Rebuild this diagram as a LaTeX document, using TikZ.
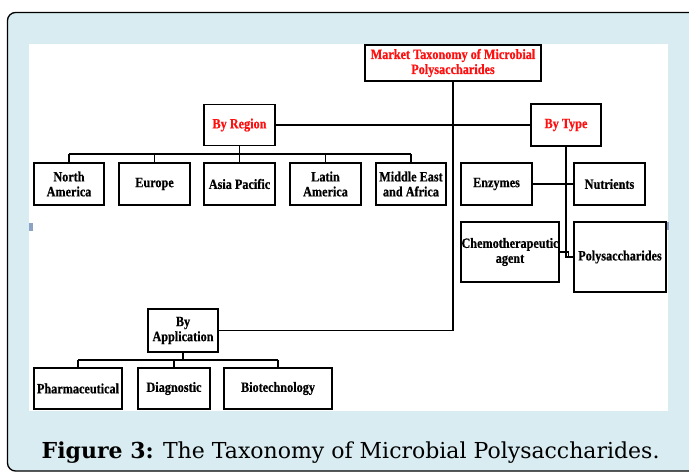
\documentclass[tikz,border=0pt]{standalone}
\usepackage{fontspec}
\newfontfamily\boxfont[FakeStretch=0.86,FakeBold=0.6]{Liberation Serif}
\newfontfamily\capfont{DejaVu Serif}
\definecolor{framebg}{HTML}{D8ECF1}
\definecolor{tickblue}{HTML}{8DA3C6}
\definecolor{ttred}{HTML}{FF1010}
\begin{document}
\begin{tikzpicture}[x=1pt,y=-1pt,
  bx/.style={draw=black,line width=1.6pt,fill=white,inner sep=0pt,align=center,
    font=\boxfont\bfseries\fontsize{14.2}{15}\selectfont},
  redtxt/.style={text=ttred},
  conn/.style={draw=black,line width=1.6pt}]
\useasboundingbox (0,0) rectangle (689,472);
\begin{scope}
\clip (0,0) rectangle (689,472);
\draw[fill=framebg,line width=1.3pt,rounded corners=8pt] (7.5,12.5) rectangle (700,471);
\end{scope}
\fill[white] (29,44) rectangle (668,411);
\fill[tickblue] (29,223) rectangle (33,231);
\fill[tickblue] (666,222) rectangle (669,230);
% boxes: centre, width, height
\node[bx,redtxt,minimum width=176pt,minimum height=36pt] (market) at (453,63) {Market Taxonomy of Microbial\\Polysaccharides};
\node[bx,redtxt,minimum width=71pt,minimum height=41pt] (byregion) at (239.5,125) {By Region};
\node[bx,redtxt,minimum width=70pt,minimum height=42pt] (bytype) at (566,125) {By Type};
\node[bx,minimum width=70pt,minimum height=42pt] (na) at (69,184) {North\\America};
\node[bx,minimum width=71pt,minimum height=42pt] (eu) at (154.5,184) {Europe};
\node[bx,minimum width=71pt,minimum height=42pt] (ap) at (239.5,184) {Asia Pacific};
\node[bx,minimum width=71pt,minimum height=42pt] (la) at (325.5,184) {Latin\\America};
\node[bx,minimum width=70pt,minimum height=42pt] (mea) at (411,184) {Middle East\\and Africa};
\node[bx,minimum width=71pt,minimum height=42pt] (enz) at (496.5,184) {Enzymes};
\node[bx,minimum width=71pt,minimum height=42pt] (nut) at (609.5,184) {Nutrients};
\node[bx,minimum width=98pt,minimum height=60pt] (chemo) at (510,252) {Chemotherapeutic\\agent};
\node[bx,minimum width=92pt,minimum height=70pt] (poly) at (620,257) {Polysaccharides};
\node[bx,minimum width=70pt,minimum height=43pt] (byapp) at (183,330.5) {By\\Application};
\node[bx,minimum width=88pt,minimum height=41pt] (pharma) at (78,388.5) {Pharmaceutical};
\node[bx,minimum width=72pt,minimum height=41pt] (diag) at (174,388.5) {Diagnostic};
\node[bx,minimum width=108pt,minimum height=41pt] (biotech) at (278,388.5) {Biotechnology};
% connectors
\coordinate (regbus) at (239.5,154);
\coordinate (appbus) at (183,360);
\coordinate (kink) at (568.5,252);
\draw[conn] (market.south) |- (byapp.east);
\draw[conn] (byregion.east) -- (bytype.west);
\draw[conn] (byregion.south) -- (regbus);
\draw[conn] (na.north |- regbus) -- (mea.north |- regbus);
\foreach \n in {na,eu,ap,la,mea} \draw[conn] (\n.north) -- (\n.north |- regbus);
\draw[conn] (byapp.south) -- (appbus);
\draw[conn] (pharma.north |- appbus) -- (biotech.north |- appbus);
\foreach \n in {pharma,diag,biotech} \draw[conn] (\n.north) -- (\n.north |- appbus);
\draw[conn] (enz.east) -- (nut.west);
\draw[conn] (bytype.south) |- (poly.west);
\draw[conn] (chemo.east) -- (kink) -- (kink |- poly.west);
% caption
\node[anchor=base west,inner sep=0pt,font=\capfont\fontsize{22}{26}\selectfont] (cap) at (41.5,458) {\textbf{Figure 3:} The Taxonomy of Microbial Polysaccharides.};
\end{tikzpicture}
\end{document}
